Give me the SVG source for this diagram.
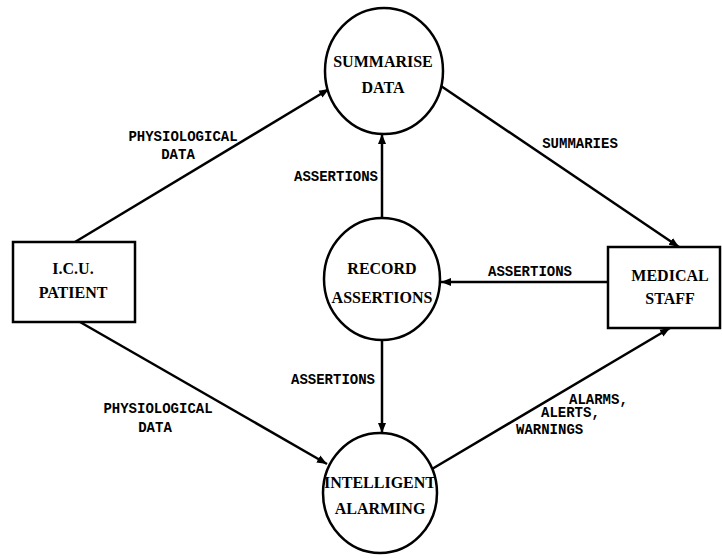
<svg xmlns="http://www.w3.org/2000/svg" width="722" height="559" viewBox="0 0 722 559">
<style>
.shape{fill:#fff;stroke:#000;stroke-width:2.5}
.node{font-family:"Liberation Serif","Times New Roman",serif;font-weight:bold;font-size:16px;text-anchor:middle;fill:#000}
.lbl{font-family:"Liberation Mono","Courier New",monospace;font-weight:bold;font-size:14px;fill:#000}
.edge{fill:none;stroke:#000;stroke-width:2.5;marker-end:url(#ah)}
</style>
<defs>
<marker id="ah" viewBox="0 0 10 10" refX="10" refY="5" markerWidth="4" markerHeight="4" orient="auto" markerUnits="strokeWidth">
<path d="M0,1 L10,5 L0,9 z" fill="#000"/>
</marker>
</defs>
<rect width="722" height="559" fill="#fff"/>
<g id="connectors">
<path class="edge" d="M75,242 L329,89"/>
<path class="edge" d="M80,322 L327,464"/>
<path class="edge" d="M441,86 L679,247"/>
<path class="edge" d="M608,282 L441,282"/>
<path class="edge" d="M382,218 L382,134"/>
<path class="edge" d="M382,340 L382,433"/>
<path class="edge" d="M432,469 L670,328"/>
</g>
<g id="labels">
<text class="lbl" x="183" y="141" text-anchor="middle">PHYSIOLOGICAL</text>
<text class="lbl" x="178" y="159" text-anchor="middle">DATA</text>
<text class="lbl" x="158" y="413" text-anchor="middle">PHYSIOLOGICAL</text>
<text class="lbl" x="155" y="432" text-anchor="middle">DATA</text>
<text class="lbl" x="580" y="148" text-anchor="middle">SUMMARIES</text>
<text class="lbl" x="336" y="181" text-anchor="middle">ASSERTIONS</text>
<text class="lbl" x="530" y="276" text-anchor="middle">ASSERTIONS</text>
<text class="lbl" x="333" y="384" text-anchor="middle">ASSERTIONS</text>
<text class="lbl" x="569" y="404">ALARMS,</text>
<text class="lbl" x="541" y="417">ALERTS,</text>
<text class="lbl" x="516" y="434">WARNINGS</text>
</g>
<g id="icu-patient">
<rect class="shape" x="13" y="242" width="122" height="80"/>
<text class="node" x="73" y="274" font-size="15">I.C.U.</text>
<text class="node" x="73" y="298" font-size="15">PATIENT</text>
</g>
<g id="medical-staff">
<rect class="shape" x="608" y="247" width="112" height="81"/>
<text class="node" x="670" y="281">MEDICAL</text>
<text class="node" x="670" y="304">STAFF</text>
</g>
<g id="summarise-data">
<ellipse class="shape" cx="384" cy="71" rx="59" ry="63"/>
<text class="node" x="383" y="67">SUMMARISE</text>
<text class="node" x="383" y="93">DATA</text>
</g>
<g id="record-assertions">
<ellipse class="shape" cx="382" cy="279" rx="58" ry="61"/>
<text class="node" x="382" y="274">RECORD</text>
<text class="node" x="382" y="303">ASSERTIONS</text>
</g>
<g id="intelligent-alarming">
<ellipse class="shape" cx="380" cy="493" rx="57" ry="60"/>
<text class="node" x="380" y="488">INTELLIGENT</text>
<text class="node" x="380" y="514">ALARMING</text>
</g>
</svg>
